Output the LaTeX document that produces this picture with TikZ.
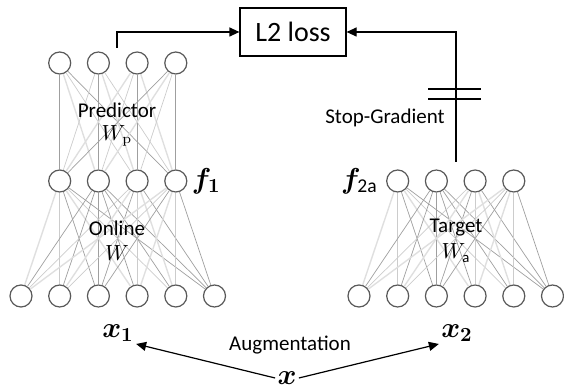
\documentclass[tikz,border=0pt]{standalone}
\usepackage[no-math]{fontspec}
\setmainfont{Carlito}
\usepackage{amsmath}
\usepackage{bm}
\usetikzlibrary{arrows.meta,positioning}

\tikzset{
  neuron/.style={circle, draw=black!65, fill=white, line width=0.6pt, minimum size=11pt, inner sep=0pt},
  link0/.style={draw=gray!75, line width=0.35pt},
  link1/.style={draw=gray!40, line width=0.35pt},
  link2/.style={draw=gray!25, line width=0.7pt},
  lbl/.style={font=\fontsize{10.5}{12}\selectfont, inner sep=1pt},
  vec/.style={font=\fontsize{14}{16}\selectfont, inner sep=1pt},
  flow/.style={line width=0.6pt, -{Triangle[length=5pt,width=4.5pt]}},
}

\begin{document}
\begin{tikzpicture}[x=0.5pt, y=-0.5pt]
\useasboundingbox (0,0) rectangle (564,390);
% the loss box
\node[draw, line width=0.6pt, minimum width=53pt, minimum height=24pt, font=\fontsize{14}{16}\selectfont] (loss) at (293,32) {L2 loss};

% online branch (predictor over encoder) and target branch
\foreach \i in {1,...,4} {
  \node[neuron] (p\i) at (21+38.7*\i, 63) {};
  \node[neuron] (m\i) at (21+38.7*\i, 181) {};
  \node[neuron] (t\i) at (359+38.7*\i, 181) {};
}
\foreach \j in {1,...,6} {
  \node[neuron] (b\j) at (-17.7+38.7*\j, 296) {};
  \node[neuron] (c\j) at (320.3+38.7*\j, 296) {};
}

% the weights
\foreach \i in {1,...,4} {
  \foreach \k in {1,...,4} {
    \pgfmathtruncatemacro\s{mod(\i+2*\k,3)}
    \draw[link\s] (p\i) -- (m\k);
  }
  \foreach \j in {1,...,6} {
    \pgfmathtruncatemacro\s{mod(\i*\j+\j,3)}
    \draw[link\s] (m\i) -- (b\j);
    \draw[link\s] (t\i) -- (c\j);
  }
}

% names of the nets
\node[lbl] (pred) at (117,110) {Predictor};
\node[lbl] (wp) at (117,136) {$W_{\mathrm{p}}$};
\node[lbl] (onl) at (117,228) {Online};
\node[lbl] (w) at (117,253) {$W$};
\node[lbl] (tgt) at (456,228) {Target};
\node[lbl] (wa) at (456,253) {$W_{\text{a}}$};

% features and inputs
\node[vec, right=1pt of m4] (f1) {$\bm{f}_{\bm{1}}$};
\node[vec, left=3pt of t1] (f2) {$\bm{f}_{\text{2a}}$};
\node[vec] (x1) at (118,333) {$\bm{x}_{\bm{1}}$};
\node[vec] (x2) at (457,333) {$\bm{x}_{\bm{2}}$};
\node[vec] (xin) at (287,378) {$\bm{x}$};
\node[lbl] (aug) at (290,345) {Augmentation};

% to the loss
\coordinate (pout) at (117,48);
\coordinate (tout) at (456,162);
\draw[flow] (pout) |- (loss.west);
\draw[flow] (tout) |- (loss.east);
\draw[line width=0.6pt] (428,89) -- (481,89) (428,99) -- (481,99);
\node[lbl] (sg) at (385,118) {Stop-Gradient};

% the two views
\draw[flow] (xin.west) -- (x1.south east);
\draw[flow] (xin.east) -- (x2.south west);
\end{tikzpicture}
\end{document}
